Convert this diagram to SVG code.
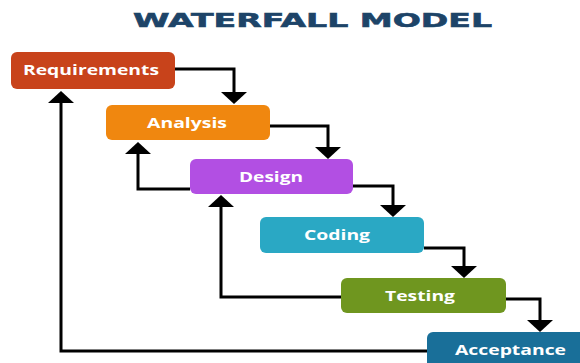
<svg xmlns="http://www.w3.org/2000/svg" width="580" height="363" viewBox="0 0 580 363">
  <style>
    .box { stroke: none; }
    .lbl { font-family: "Open Sans", "DejaVu Sans", sans-serif; font-weight: bold; font-size: 14px; fill: #ffffff; }
    .title { font-family: "DejaVu Sans", "Open Sans", sans-serif; font-weight: bold; font-size: 20px; fill: #1d4468; stroke: #1d4468; stroke-width: 0.6; }
    .conn { fill: none; stroke: #000000; stroke-width: 3; stroke-linejoin: miter; }
  </style>
  <defs>
    <marker id="arr" viewBox="0 0 12 26" refX="0" refY="13" markerWidth="12" markerHeight="26" markerUnits="userSpaceOnUse" orient="auto">
      <path d="M0,0 L12,13 L0,26 Z" fill="#000000"/>
    </marker>
  </defs>
  <rect width="580" height="363" fill="#ffffff"/>
  <text class="title" x="133" y="27" textLength="359" lengthAdjust="spacingAndGlyphs">WATERFALL MODEL</text>

  <g id="connectors">
    <path class="conn" d="M175,69 H234 V92" marker-end="url(#arr)"/>
    <path class="conn" d="M270,126 H328 V147" marker-end="url(#arr)"/>
    <path class="conn" d="M353,186 H393 V205" marker-end="url(#arr)"/>
    <path class="conn" d="M424,248 H464 V266" marker-end="url(#arr)"/>
    <path class="conn" d="M506,299 H540 V320" marker-end="url(#arr)"/>
    <path class="conn" d="M427,351 H61 V103" marker-end="url(#arr)"/>
    <path class="conn" d="M190,189 H138 V154" marker-end="url(#arr)"/>
    <path class="conn" d="M341,297 H221 V207" marker-end="url(#arr)"/>
  </g>

  <g id="requirements">
    <rect class="box" x="11" y="52" width="164" height="37" rx="6" fill="#c8431b"/>
    <text class="lbl" x="23" y="75" textLength="136" lengthAdjust="spacingAndGlyphs">Requirements</text>
  </g>
  <g id="analysis">
    <rect class="box" x="106" y="105" width="164" height="35" rx="6" fill="#f0870f"/>
    <text class="lbl" x="147" y="127.5" textLength="80" lengthAdjust="spacingAndGlyphs">Analysis</text>
  </g>
  <g id="design">
    <rect class="box" x="190" y="159" width="163" height="35" rx="6" fill="#b24fe3"/>
    <text class="lbl" x="239" y="181.5" textLength="64" lengthAdjust="spacingAndGlyphs">Design</text>
  </g>
  <g id="coding">
    <rect class="box" x="260" y="217" width="164" height="36" rx="6" fill="#2aa8c4"/>
    <text class="lbl" x="304" y="240" textLength="66" lengthAdjust="spacingAndGlyphs">Coding</text>
  </g>
  <g id="testing">
    <rect class="box" x="341" y="278" width="165" height="35" rx="6" fill="#6f961f"/>
    <text class="lbl" x="385" y="300.5" textLength="70" lengthAdjust="spacingAndGlyphs">Testing</text>
  </g>
  <g id="acceptance">
    <rect class="box" x="427" y="332" width="170" height="45" rx="6" fill="#196f99"/>
    <text class="lbl" x="455" y="355" textLength="111" lengthAdjust="spacingAndGlyphs">Acceptance</text>
  </g>
</svg>
